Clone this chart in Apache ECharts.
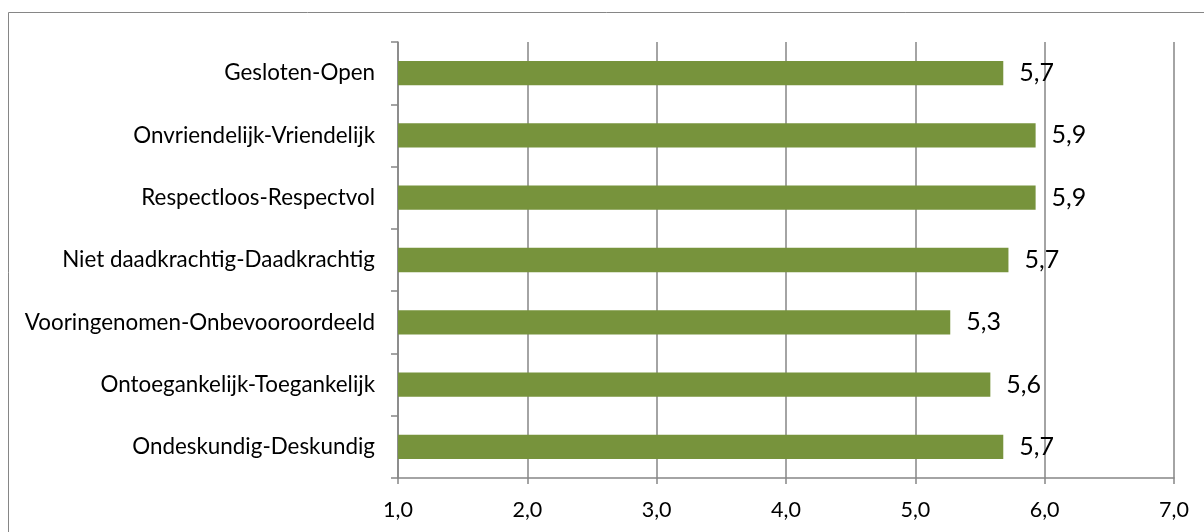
<!DOCTYPE html>
<html>
<head>
<meta charset="utf-8">
<script src="https://cdn.jsdelivr.net/npm/echarts@6/dist/echarts.min.js"></script>
<style>
html,body{margin:0;padding:0;background:#fff;}
#chart{width:1204px;height:532px;}
</style>
</head>
<body>
<div id="chart"></div>
<script>
var categories = [
  'Gesloten-Open',
  'Onvriendelijk-Vriendelijk',
  'Respectloos-Respectvol',
  'Niet daadkrachtig-Daadkrachtig',
  'Vooringenomen-Onbevooroordeeld',
  'Ontoegankelijk-Toegankelijk',
  'Ondeskundig-Deskundig'
];
var values = [5.68, 5.93, 5.93, 5.72, 5.27, 5.58, 5.68];
var xMin = 1, xMax = 7, xStep = 1;

var FONT = 'Lato, "Open Sans", sans-serif';
var chart = echarts.init(document.getElementById('chart'));
chart.setOption({
  animation: false,
  backgroundColor: '#fff',
  graphic: [{
    type: 'rect',
    shape: {x: 8.5, y: 12.5, width: 1220, height: 540},
    style: {fill: 'none', stroke: '#868686', lineWidth: 1}
  }],
  grid: {left: 398, right: 30, top: 42, bottom: 54, containLabel: false},
  xAxis: {
    type: 'value',
    min: xMin, max: xMax, interval: xStep,
    axisLine: {show: true, lineStyle: {color: '#868686', width: 1.5}},
    axisTick: {show: true, length: 6, lineStyle: {color: '#868686', width: 1.5}},
    splitLine: {show: true, lineStyle: {color: '#868686', width: 1.5}},
    axisLabel: {
      color: '#000', fontSize: 21.5, fontFamily: FONT, margin: 21,
      formatter: function (v) { return v.toFixed(1).replace('.', ','); }
    }
  },
  yAxis: {
    type: 'category',
    data: categories,
    inverse: true,
    axisLine: {show: true, lineStyle: {color: '#868686', width: 1.5}},
    axisTick: {show: true, length: 7, lineStyle: {color: '#868686', width: 1.5}},
    axisLabel: {color: '#000', fontSize: 22.4, fontFamily: FONT, margin: 23}
  },
  series: [{
    type: 'bar',
    data: values,
    barWidth: '39%',
    itemStyle: {color: '#77933C'},
    label: {
      show: true, position: 'right', distance: 16,
      color: '#000', fontSize: 25, fontFamily: FONT,
      formatter: function (p) { return p.value.toFixed(1).replace('.', ','); }
    }
  }]
});
</script>
</body>
</html>
